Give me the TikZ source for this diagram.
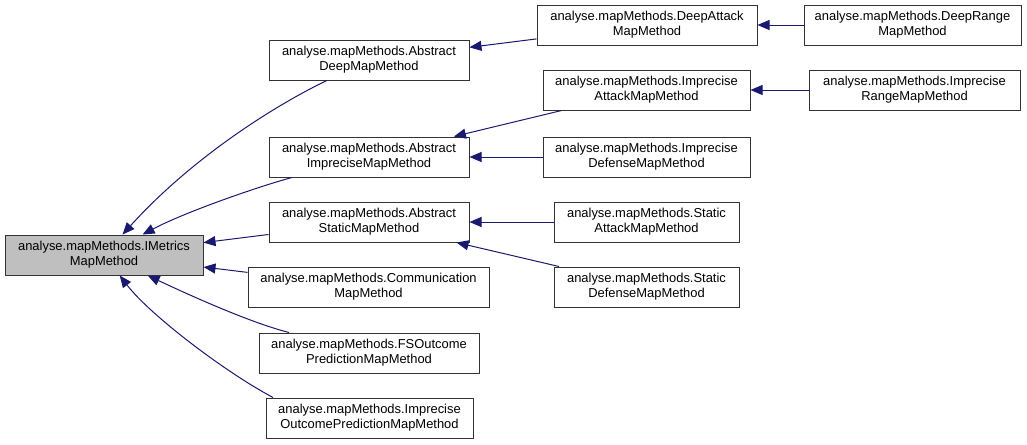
\documentclass[tikz,border=0pt]{standalone}
\usepackage{fontspec}
\setmainfont{Liberation Sans}
\usetikzlibrary{arrows.meta, positioning, calc}
\usepackage{xcolor}
\definecolor{midnightblue}{HTML}{191970}
\definecolor{basegray}{HTML}{BFBFBF}
\tikzset{
    classbox/.style={rectangle, draw=black!80, line width=0.75pt, fill=white, align=center, inner sep=0pt, minimum height=30pt, font=\fontsize{9.7}{11.25}\selectfont},
    rootbox/.style={classbox, fill=basegray},
    inherit/.style={draw=midnightblue, line width=0.75pt, {Triangle[length=9pt,width=7.5pt,fill=midnightblue]}-}
}
\begin{document}
\begin{tikzpicture}[x=0.75pt, y=-0.75pt]
    \useasboundingbox (0,0) rectangle (1027,444);
    \node[rootbox, minimum width=148.5pt] (imetrics) at (104,255) {analyse.mapMethods.IMetrics\\MapMethod};
    \node[classbox, minimum width=150pt] (absdeep) at (369,60) {analyse.mapMethods.Abstract\\DeepMapMethod};
    \node[classbox, minimum width=150pt] (absimprecise) at (369,157) {analyse.mapMethods.Abstract\\ImpreciseMapMethod};
    \node[classbox, minimum width=150pt] (absstatic) at (369,222) {analyse.mapMethods.Abstract\\StaticMapMethod};
    \node[classbox, minimum width=180.75pt] (communication) at (368.5,287) {analyse.mapMethods.Communication\\MapMethod};
    \node[classbox, minimum width=165pt] (fsoutcome) at (369,353) {analyse.mapMethods.FSOutcome\\PredictionMapMethod};
    \node[classbox, minimum width=155.25pt] (impoutcome) at (369.5,418) {analyse.mapMethods.Imprecise\\OutcomePredictionMapMethod};
    \node[classbox, minimum width=165pt] (deepattack) at (647,25) {analyse.mapMethods.DeepAttack\\MapMethod};
    \node[classbox, minimum width=162.75pt] (deeprange) at (912.5,25) {analyse.mapMethods.DeepRange\\MapMethod};
    \node[classbox, minimum width=155.25pt] (impattack) at (646.5,90) {analyse.mapMethods.Imprecise\\AttackMapMethod};
    \node[classbox, minimum width=158.25pt] (imprange) at (914.5,90) {analyse.mapMethods.Imprecise\\RangeMapMethod};
    \node[classbox, minimum width=155.25pt] (impdefense) at (646.5,157) {analyse.mapMethods.Imprecise\\DefenseMapMethod};
    \node[classbox, minimum width=138.75pt] (staticattack) at (646.5,222) {analyse.mapMethods.Static\\AttackMapMethod};
    \node[classbox, minimum width=138.75pt] (staticdefense) at (646.5,287) {analyse.mapMethods.Static\\DefenseMapMethod};

    \draw[inherit] (imetrics) .. controls (190,160) and (270,108) .. (absdeep);
    \draw[inherit] (imetrics) .. controls (185,212) and (260,186) .. (absimprecise);
    \draw[inherit] (imetrics) -- (absstatic);
    \draw[inherit] (imetrics) -- (communication);
    \draw[inherit] (imetrics) .. controls (185,293) and (248,322) .. (fsoutcome);
    \draw[inherit] (imetrics) .. controls (150,315) and (225,372) .. (impoutcome.168);
    \draw[inherit] (absdeep) -- (deepattack);
    \draw[inherit] (deepattack) -- (deeprange);
    \draw[inherit] (absimprecise) -- (impattack);
    \draw[inherit] (impattack) -- (imprange);
    \draw[inherit] (absimprecise) -- (impdefense);
    \draw[inherit] (absstatic) -- (staticattack);
    \draw[inherit] (absstatic) -- (staticdefense);
\end{tikzpicture}
\end{document}
